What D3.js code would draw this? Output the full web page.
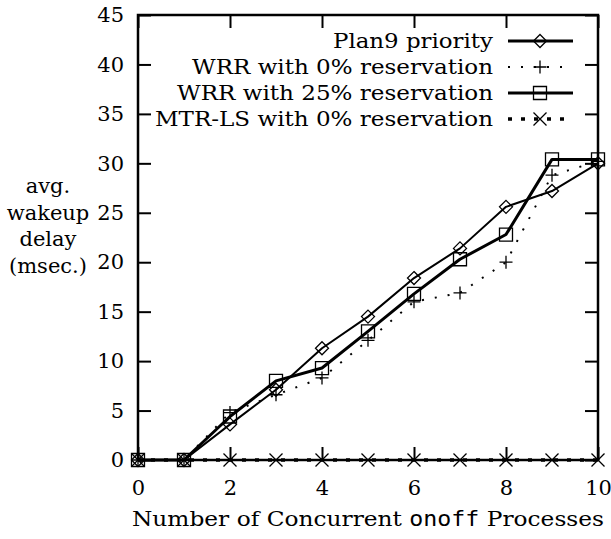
<!DOCTYPE html>
<html>
<head>
<meta charset="utf-8">
<script src="https://cdn.jsdelivr.net/npm/d3@7"></script>
<style>
  body { margin: 0; background: #fff; }
  text { font-family: "DejaVu Serif"; fill: #000; }
  text.mono, tspan.mono { font-family: "DejaVu Sans Mono"; }
</style>
</head>
<body>
<div id="chart"></div>
<script>
// number of concurrent onoff processes
const procs = [0, 1, 2, 3, 4, 5, 6, 7, 8, 9, 10];

// avg. wakeup delay (msec.)
const plan9 = [0, 0, 3.6, 7.1, 11.3, 14.5, 18.4, 21.4, 25.6, 27.2, 30.0];
const wrr0 = [0, 0, 4.8, 6.6, 8.3, 12.1, 16.0, 16.9, 20.0, 28.8, 30.2];
const wrr25 = [0, 0, 4.4, 8.0, 9.3, 13.0, 16.8, 20.3, 22.8, 30.4, 30.4];
const mtrls = [0, 0, 0, 0, 0, 0, 0, 0, 0, 0, 0];

const seriesNames = ["Plan9 priority", "WRR with 0% reservation",
  "WRR with 25% reservation", "MTR-LS with 0% reservation"];

const yTicks = [0, 5, 10, 15, 20, 25, 30, 35, 40, 45];
const xTicks = [0, 2, 4, 6, 8, 10];

const width = 611, height = 539;
const margin = { top: 15, right: 13, bottom: 79, left: 138 };
const fontSize = 21;
// rendered widths of the TeX font, used to stretch the texts
const legendWidths = [160, 301, 316, 338];

const svg = d3.select("#chart").append("svg")
  .attr("width", width)
  .attr("height", height);

const x = d3.scaleLinear().domain([0, 10]).range([margin.left, width - margin.right]);
const y = d3.scaleLinear().domain([0, 45]).range([height - margin.bottom, margin.top]);

const series = [
  { name: seriesNames[0], values: plan9, width: 2, dash: null, marker: "diamond" },
  { name: seriesNames[1], values: wrr0, width: 2, dash: "2,11", marker: "plus" },
  { name: seriesNames[2], values: wrr25, width: 3, dash: null, marker: "square" },
  { name: seriesNames[3], values: mtrls, width: 3.5, dash: "4,9", marker: "cross" }
];

function drawMarker(g, kind, cx, cy) {
  const s = 6.5;
  const m = g.append("path")
    .attr("fill", "none")
    .attr("stroke", "#000")
    .attr("stroke-width", 1.3);
  if (kind === "diamond") {
    m.attr("d", `M${cx},${cy - s}L${cx + s},${cy}L${cx},${cy + s}L${cx - s},${cy}Z`);
  } else if (kind === "plus") {
    m.attr("d", `M${cx - s},${cy}H${cx + s}M${cx},${cy - s}V${cy + s}`);
  } else if (kind === "square") {
    m.attr("d", `M${cx - s},${cy - s}H${cx + s}V${cy + s}H${cx - s}Z`);
  } else {
    m.attr("d", `M${cx - s},${cy - s}L${cx + s},${cy + s}M${cx - s},${cy + s}L${cx + s},${cy - s}`);
  }
}

function styleAxis(g) {
  g.select(".domain").remove();
  g.attr("font-family", null).attr("font-size", null);
  g.selectAll("line").attr("stroke-width", 2);
  g.selectAll("text").style("font-size", fontSize + "px");
}

// axes (ticks inward, frame drawn separately)
svg.append("g")
  .attr("transform", `translate(${margin.left},0)`)
  .call(d3.axisLeft(y).tickValues(yTicks).tickSize(-13).tickPadding(14))
  .call(styleAxis);

svg.append("g")
  .attr("transform", `translate(${width - margin.right},0)`)
  .call(d3.axisRight(y).tickValues(yTicks).tickSize(-13).tickFormat(""))
  .call(styleAxis);

svg.append("g")
  .attr("transform", `translate(0,${height - margin.bottom})`)
  .call(d3.axisBottom(x).tickValues(xTicks).tickSize(-13).tickPadding(20))
  .call(styleAxis);

svg.append("g")
  .attr("transform", `translate(0,${margin.top})`)
  .call(d3.axisTop(x).tickValues(xTicks).tickSize(-13).tickFormat(""))
  .call(styleAxis);

// frame
svg.append("rect")
  .attr("x", x(0)).attr("y", y(45))
  .attr("width", x(10) - x(0)).attr("height", y(0) - y(45))
  .attr("fill", "none").attr("stroke", "#000").attr("stroke-width", 2.5);

// lines and markers
const line = d3.line().x((d, i) => x(procs[i])).y(d => y(d));
series.slice().reverse().forEach(s => {
  svg.append("path")
    .datum(s.values)
    .attr("d", line)
    .attr("fill", "none")
    .attr("stroke", "#000")
    .attr("stroke-width", s.width)
    .attr("stroke-dasharray", s.dash)
    .attr("stroke-linejoin", "round");
  const mg = svg.append("g");
  s.values.forEach((v, i) => drawMarker(mg, s.marker, x(procs[i]), y(v)));
});

// legend
const legend = svg.append("g");
series.forEach((s, i) => {
  const ly = 41 + i * 26;
  legend.append("text")
    .attr("x", 493).attr("y", ly)
    .attr("dy", "0.33em")
    .attr("text-anchor", "end")
    .style("font-size", fontSize + "px")
    .attr("textLength", legendWidths[i])
    .attr("lengthAdjust", "spacingAndGlyphs")
    .text(s.name);
  legend.append("line")
    .attr("x1", 508).attr("x2", 573)
    .attr("y1", ly).attr("y2", ly)
    .attr("stroke", "#000")
    .attr("stroke-width", s.dash ? s.width : 3)
    .attr("stroke-dasharray", s.dash);
  drawMarker(legend, s.marker, 540, ly);
});

// y title
const yTitle = ["avg.", "wakeup", "delay", "(msec.)"];
svg.append("g")
  .selectAll("text")
  .data(yTitle)
  .join("text")
  .attr("x", 48)
  .attr("y", (d, i) => 193 + i * 26.5)
  .attr("text-anchor", "middle")
  .style("font-size", fontSize + "px")
  .text(d => d);

// x title
const xt = svg.append("text")
  .attr("x", (x(0) + x(10)) / 2).attr("y", 526)
  .attr("text-anchor", "middle")
  .style("font-size", fontSize + "px")
  .attr("textLength", 472)
  .attr("lengthAdjust", "spacingAndGlyphs");
xt.append("tspan").text("Number of Concurrent ");
xt.append("tspan").attr("class", "mono").text("onoff");
xt.append("tspan").text(" Processes");
</script>
</body>
</html>
